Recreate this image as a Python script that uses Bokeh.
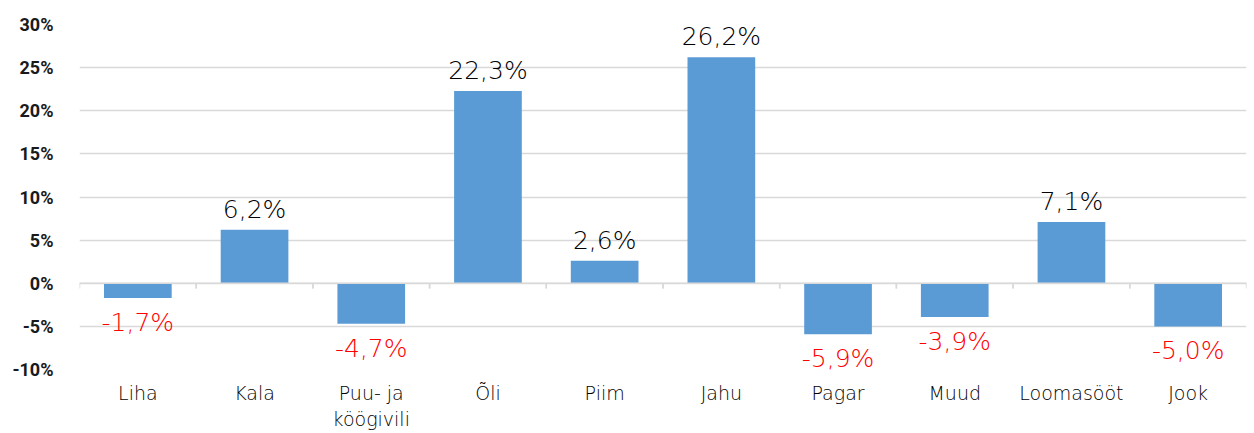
from bokeh.plotting import figure
from bokeh.models import ColumnDataSource, FixedTicker, Span
from bokeh.transform import dodge
from bokeh.core.properties import value
from bokeh.embed import file_html
from bokeh.resources import INLINE

categories = ["Liha", "Kala", "Puu- ja\nköögivili", "Õli", "Piim", "Jahu", "Pagar", "Muud", "Loomasööt", "Jook"]
values = [-1.7, 6.2, -4.7, 22.3, 2.6, 26.2, -5.9, -3.9, 7.1, -5.0]
y_ticks = [-10, -5, 0, 5, 10, 15, 20, 25, 30]

labels = [("%.1f%%" % v).replace(".", ",") for v in values]
pos = [v >= 0 for v in values]

LIGHT = "'DejaVu Sans ExtraLight', 'DejaVu Sans Light', 'DejaVu Sans', sans-serif"

p = figure(x_range=categories, y_range=(-10, 30), frame_width=1167, frame_height=345,
           output_backend="svg", toolbar_location=None,
           min_border_left=79, min_border_right=8, min_border_top=24, min_border_bottom=60)
p.outline_line_color = None
p.background_fill_color = "white"
p.border_fill_color = "white"

p.xgrid.grid_line_color = None
p.ygrid.grid_line_color = "#D9D9D9"
p.ygrid.grid_line_width = 1.5
p.yaxis.ticker = FixedTicker(ticks=y_ticks)
p.yaxis.major_label_overrides = {t: f"{t}%" for t in y_ticks}
p.yaxis.axis_line_color = None
p.yaxis.major_tick_line_color = None
p.yaxis.minor_tick_line_color = None
p.yaxis.major_label_standoff = 20
p.yaxis.major_label_text_font = "Roboto"
p.yaxis.major_label_text_font_style = "bold"
p.yaxis.major_label_text_font_size = "18px"
p.yaxis.major_label_text_color = "#1a1a1a"

p.xaxis.axis_line_color = None
p.xaxis.major_tick_line_color = None
p.xaxis.minor_tick_line_color = None
p.xaxis.major_label_standoff = 6
p.xaxis.major_label_text_font = LIGHT
p.xaxis.major_label_text_font_size = "19px"
p.xaxis.major_label_text_color = "#000000"

src = ColumnDataSource(dict(cat=categories, val=values, lab=labels))
p.vbar(x="cat", top="val", bottom=0, width=0.58, source=src,
       fill_color="#5B9BD5", line_color=None)

# zero axis line with tick marks at category boundaries
p.add_layout(Span(location=0, dimension="width", line_color="#D9D9D9", line_width=1.5))
bsrc = ColumnDataSource(dict(cat=categories))
p.segment(x0=dodge("cat", -0.5, range=p.x_range), x1=dodge("cat", -0.5, range=p.x_range),
          y0=0, y1=-0.6, source=bsrc, line_color="#D9D9D9", line_width=1.5)
p.segment(x0=dodge("cat", 0.5, range=p.x_range), x1=dodge("cat", 0.5, range=p.x_range),
          y0=0, y1=-0.6, source=bsrc, line_color="#D9D9D9", line_width=1.5)

psrc = ColumnDataSource(dict(cat=[c for c, q in zip(categories, pos) if q],
                             val=[v for v, q in zip(values, pos) if q],
                             lab=[l for l, q in zip(labels, pos) if q]))
nsrc = ColumnDataSource(dict(cat=[c for c, q in zip(categories, pos) if not q],
                             val=[v for v, q in zip(values, pos) if not q],
                             lab=[l for l, q in zip(labels, pos) if not q]))
p.text(x="cat", y="val", text="lab", source=psrc, text_align="center",
       text_baseline="bottom", y_offset=-6, text_font=value(LIGHT),
       text_font_size="25px", text_color="#000000")
p.text(x="cat", y="val", text="lab", source=nsrc, text_align="center",
       text_baseline="top", y_offset=10, text_font=value(LIGHT),
       text_font_size="25px", text_color="#FF0000")

open("out.html", "w").write(file_html(p, INLINE))
